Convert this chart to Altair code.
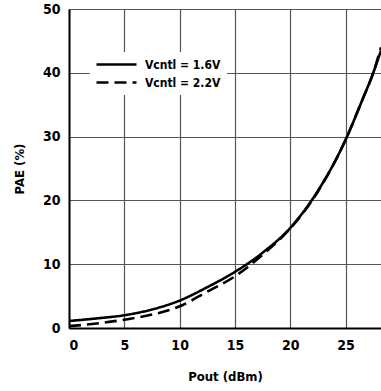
import altair as alt
import pandas as pd

pout_16 = [0, 2.5, 5, 7.5, 10, 12.5, 15, 17.5, 20, 22.5, 25, 26.5, 27.5, 28.2]
pae_16 = [1.1, 1.5, 2.0, 2.9, 4.3, 6.4, 8.8, 11.8, 15.7, 21.5, 29.5, 35.7, 40.0, 43.5]
pout_22 = [0, 2.5, 5, 7.5, 10, 12.5, 15, 17.5, 20, 22.5, 25, 26.5, 27.5, 28.2]
pae_22 = [0.3, 0.7, 1.3, 2.1, 3.4, 5.7, 8.1, 11.5, 15.6, 21.4, 29.5, 35.7, 40.0, 44.0]
series = ["Vcntl = 1.6V", "Vcntl = 2.2V"]

rows = []
for x, y in zip(pout_16, pae_16):
    rows.append({"Pout": x, "PAE": y, "s": series[0]})
for x, y in zip(pout_22, pae_22):
    rows.append({"Pout": x, "PAE": y, "s": series[1]})
df = pd.DataFrame(rows)

FONT = "DejaVu Sans Condensed, Roboto Condensed, Liberation Sans Narrow, Roboto, sans-serif"

chart = alt.Chart(df).mark_line(
    color="black", strokeWidth=2.6, interpolate="monotone", clip=True
).encode(
    x=alt.X("Pout:Q", title="Pout (dBm)",
            scale=alt.Scale(domain=[0, 28.2], nice=False, zero=False),
            axis=alt.Axis(values=[0, 5, 10, 15, 20, 25], grid=True, labelPadding=10)),
    y=alt.Y("PAE:Q", title="PAE (%)",
            scale=alt.Scale(domain=[0, 50], nice=False),
            axis=alt.Axis(values=[0, 10, 20, 30, 40, 50], grid=True, labelPadding=9)),
    strokeDash=alt.StrokeDash("s:N", title=None,
        scale=alt.Scale(domain=series, range=[[1, 0], [12, 6]]),
        legend=alt.Legend(orient="none", legendX=21, legendY=43,
                          fillColor="white", padding=6,
                          symbolType="M-4,0H4", symbolSize=100,
                          symbolOffset=14,
                          symbolStrokeWidth=2.6, symbolStrokeColor="black",
                          symbolFillColor="transparent",
                          labelFont=FONT, labelFontWeight="bold",
                          labelFontSize=12, labelColor="black",
                          rowPadding=5, labelOffset=22)),
).properties(
    width=312, height=319,
    autosize=alt.AutoSizeParams(type="none"),
    padding={"left": 69, "top": 9, "right": 0, "bottom": 63},
).configure_view(
    stroke=None
).configure_axis(
    labelFont=FONT, labelFontWeight="bold", labelFontSize=14, labelColor="black",
    titleFont=FONT, titleFontWeight="bold", titleFontSize=13, titleColor="black",
    gridColor="#555", gridWidth=1.2, gridOpacity=1,
    domainColor="black", domainWidth=2, ticks=False,
).configure_axisX(
    titlePadding=18
).configure_axisY(
    titlePadding=16
)

chart.save("out.html", embed_options={"renderer": "svg", "actions": False})
